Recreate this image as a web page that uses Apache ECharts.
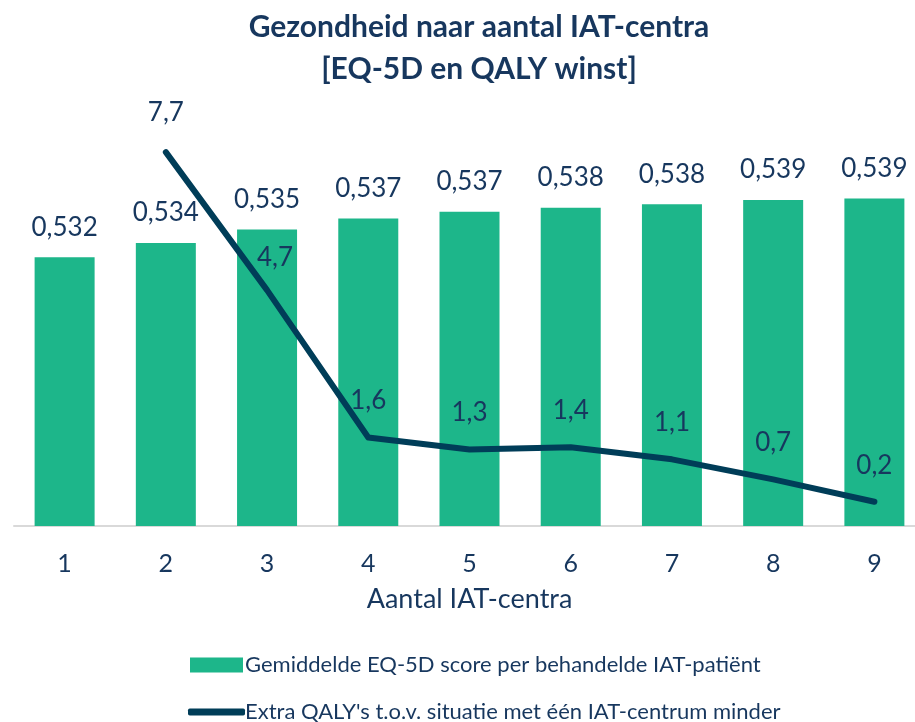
<!DOCTYPE html>
<html>
<head>
<meta charset="utf-8">
<script src="https://cdn.jsdelivr.net/npm/echarts@6/dist/echarts.min.js"></script>
<style>
html,body{margin:0;padding:0;background:#fff;}
#chart{width:915px;height:722px;}
</style>
</head>
<body>
<div id="chart"></div>
<script>
var categories = ['1', '2', '3', '4', '5', '6', '7', '8', '9'];
var eq5dScores = [0.5320, 0.5337, 0.5353, 0.5366, 0.5374, 0.5379, 0.5383, 0.5388, 0.5390];
var qalyGains = [null, 7.7, 4.74, 1.58, 1.32, 1.37, 1.11, 0.68, 0.2];
var barName = 'Gemiddelde EQ-5D score per behandelde IAT-patiënt';
var lineName = "Extra QALY's t.o.v. situatie met één IAT-centrum minder";
var titleText = 'Gezondheid naar aantal IAT-centra\n[EQ-5D en QALY winst]';
var xAxisName = 'Aantal IAT-centra';

var navy = '#17375E';
var green = '#1DB68A';
var lineColor = '#003D58';
var fontFam = 'Lato, "Open Sans", sans-serif';

var lineData = qalyGains.map(function (v, i) {
  if (v === null) return null;
  if (i === 1) return { value: v, label: { distance: 26 } };
  if (i === 2) return { value: v, label: { distance: 19, offset: [8, 0] } };
  return v;
});

var chart = echarts.init(document.getElementById('chart'), null, { renderer: 'canvas' });
chart.setOption({
  animation: false,
  backgroundColor: '#ffffff',
  textStyle: { fontFamily: fontFam },
  title: {
    text: titleText,
    left: 474,
    textAlign: 'center',
    top: 1,
    textStyle: {
      fontFamily: fontFam,
      fontWeight: 'bold',
      fontSize: 30,
      lineHeight: 42,
      color: navy
    }
  },
  legend: [
    {
      data: [barName],
      orient: 'vertical',
      left: 185,
      top: 649,
      itemWidth: 53,
      itemHeight: 15,
      itemGap: 0,
      icon: 'rect',
      textStyle: { fontFamily: fontFam, fontSize: 22, color: navy, padding: [0, 0, 0, -3] }
    },
    {
      data: [lineName],
      orient: 'vertical',
      left: 183,
      top: 696,
      itemWidth: 57,
      itemHeight: 7,
      itemGap: 0,
      icon: 'roundRect',
      textStyle: { fontFamily: fontFam, fontSize: 22, color: navy, padding: [0, 0, 0, -5] }
    }
  ],
  grid: { left: 14, top: 106, width: 911, height: 420, outerBoundsMode: 'none', containLabel: false },
  xAxis: {
    type: 'category',
    data: categories,
    name: xAxisName,
    nameLocation: 'middle',
    nameGap: 60,
    nameTextStyle: { fontFamily: fontFam, fontSize: 27, color: navy },
    axisLine: { onZero: false, lineStyle: { color: '#D9D9D9', width: 2 } },
    axisTick: { show: false },
    axisLabel: { fontFamily: fontFam, fontSize: 25, color: navy, margin: 25 }
  },
  yAxis: [
    { type: 'value', min: 0.5, max: 0.55, show: false, splitLine: { show: false } },
    { type: 'value', min: -0.32, max: 8.69, show: false, splitLine: { show: false } }
  ],
  series: [
    {
      name: barName,
      type: 'bar',
      data: eq5dScores,
      barWidth: 60,
      itemStyle: { color: green },
      label: {
        show: true,
        position: 'top',
        distance: 17,
        fontFamily: fontFam,
        fontSize: 26,
        color: navy,
        formatter: function (p) { return p.value.toFixed(3).replace('.', ','); }
      }
    },
    {
      name: lineName,
      type: 'line',
      yAxisIndex: 1,
      data: lineData,
      symbol: 'circle',
      symbolSize: 1,
      itemStyle: { color: lineColor },
      lineStyle: { color: lineColor, width: 6, cap: 'round', join: 'round' },
      label: {
        show: true,
        position: 'top',
        distance: 23,
        fontFamily: fontFam,
        fontSize: 26,
        color: navy,
        formatter: function (p) { return p.value.toFixed(1).replace('.', ','); }
      }
    }
  ]
});
</script>
</body>
</html>
